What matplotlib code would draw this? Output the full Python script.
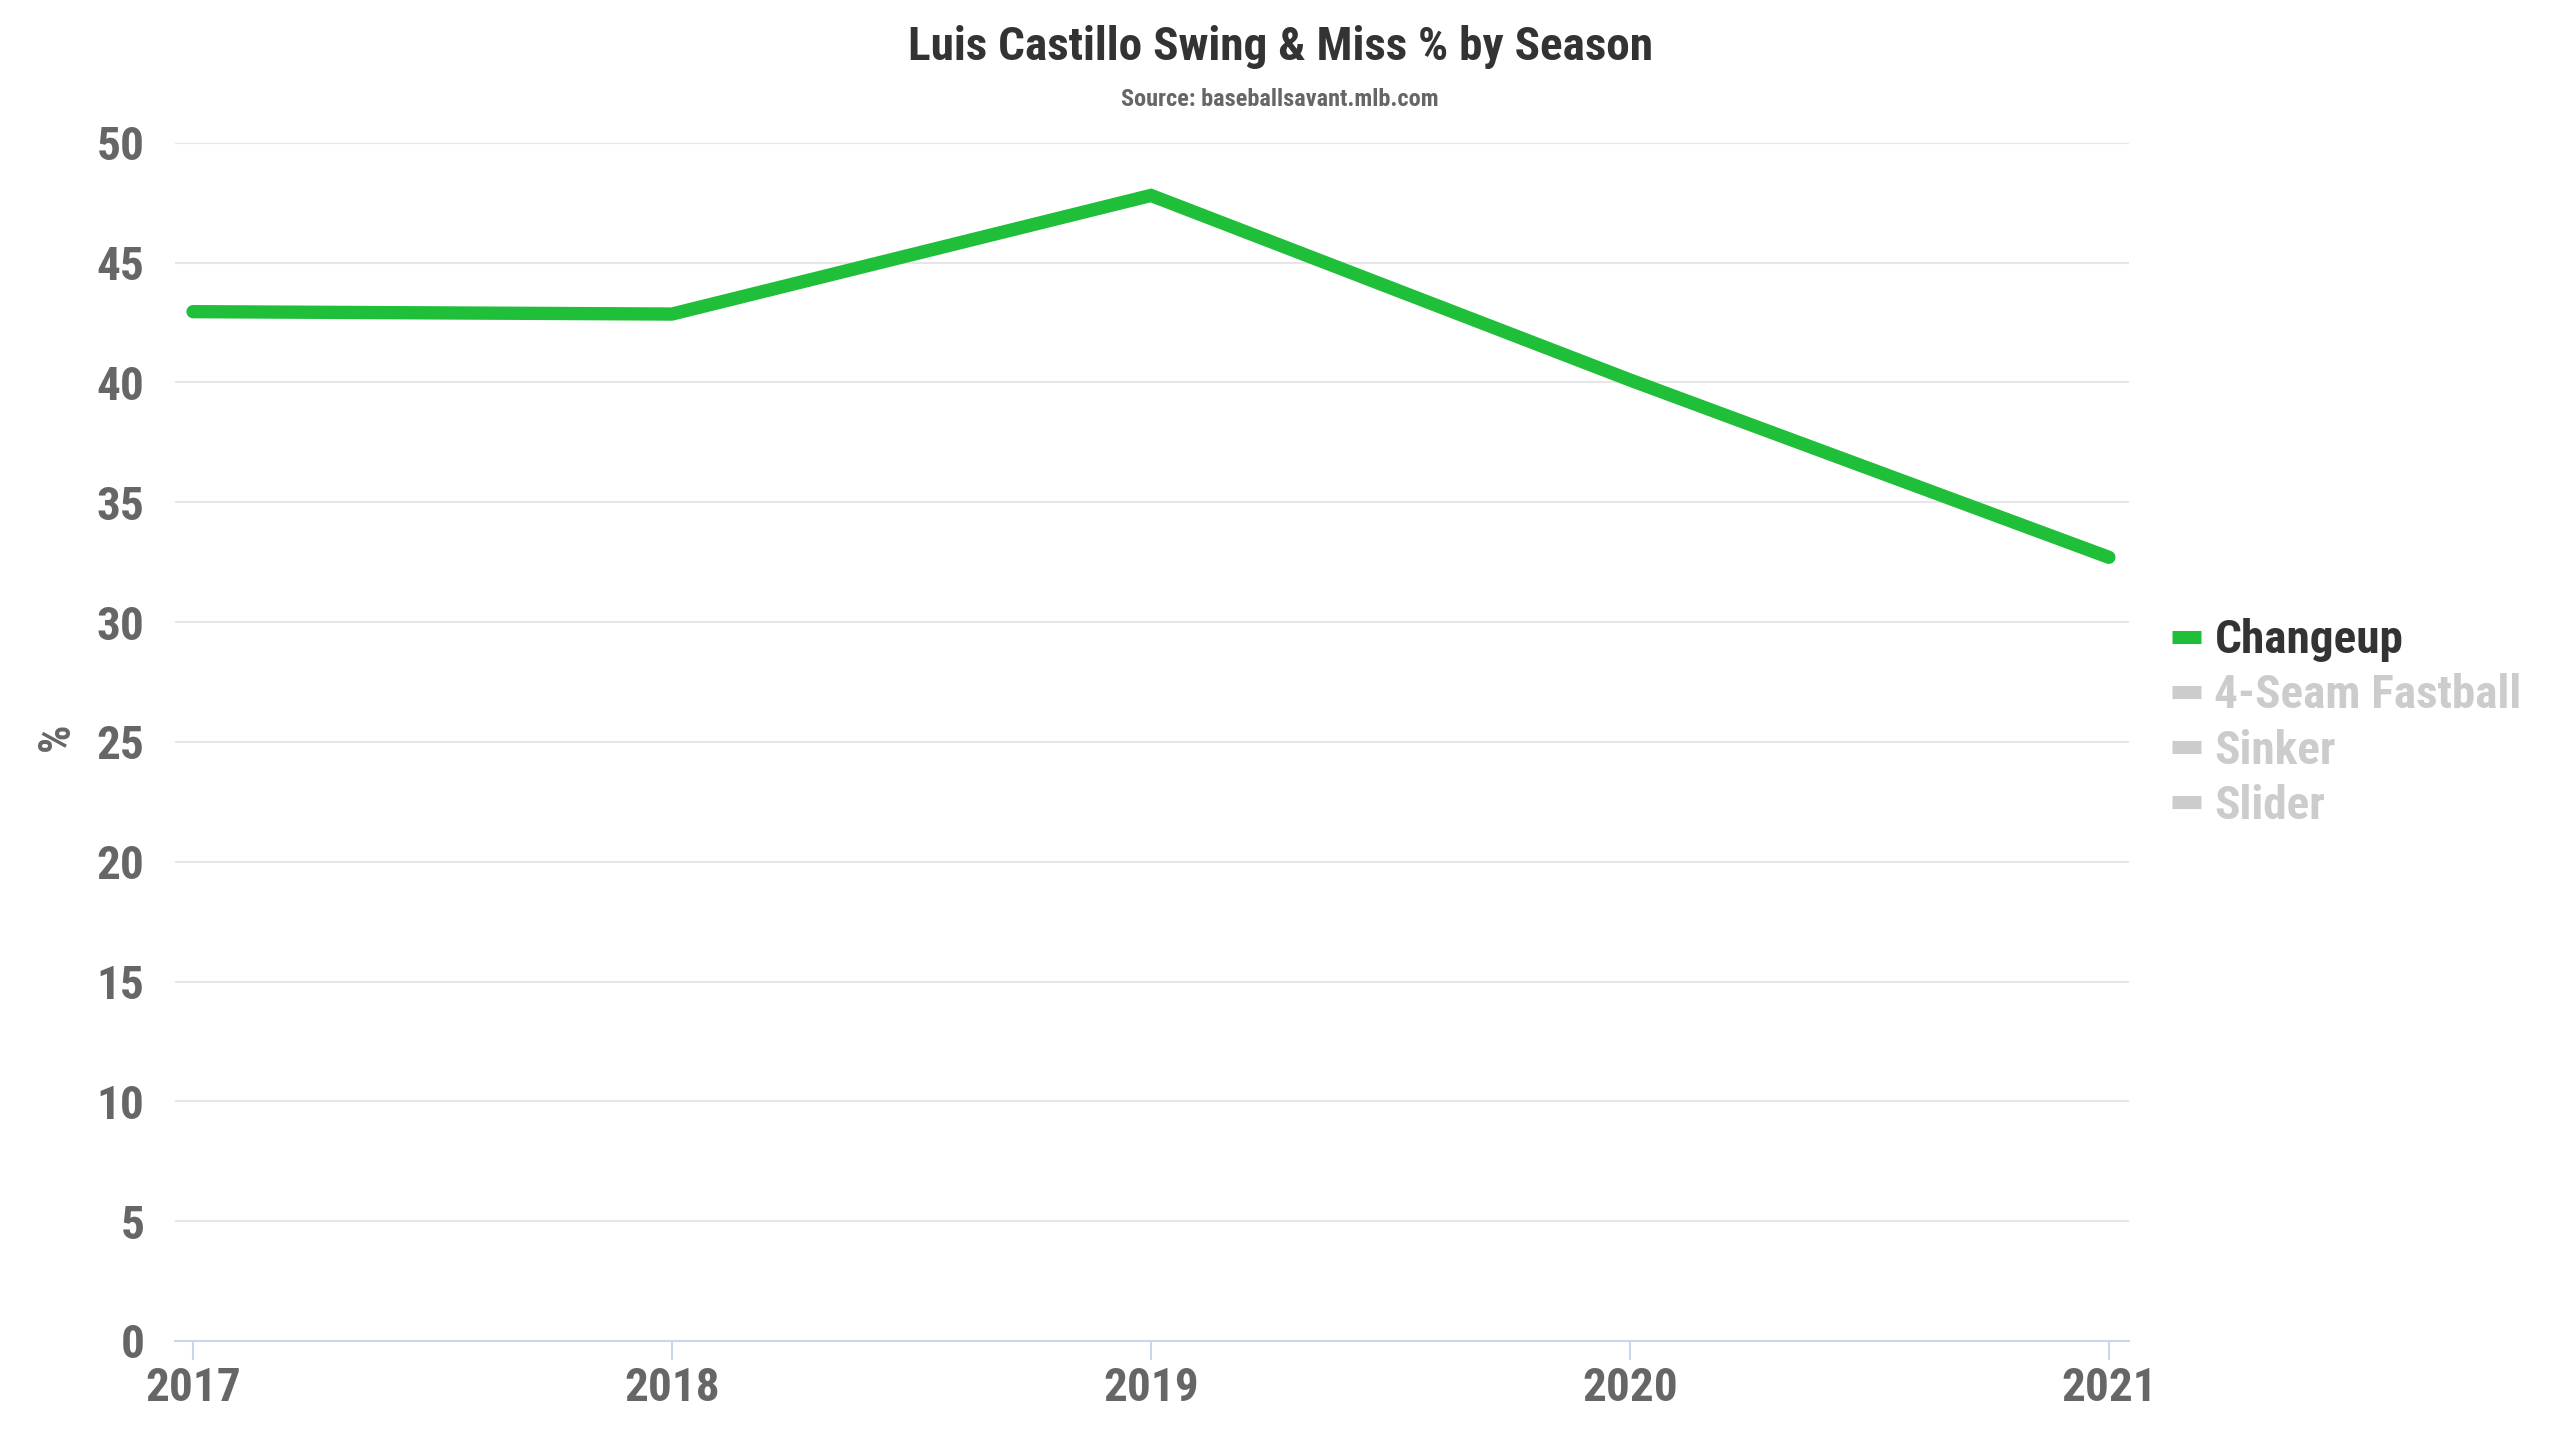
import matplotlib
matplotlib.use("Agg")
import matplotlib.pyplot as plt
from matplotlib.lines import Line2D

seasons = [2017, 2018, 2019, 2020, 2021]
changeup = [42.95, 42.85, 47.8, 40.1, 32.7]
series_names = ["Changeup", "4-Seam Fastball", "Sinker", "Slider"]
series_active = [True, False, False, False]
yticks = [0, 5, 10, 15, 20, 25, 30, 35, 40, 45, 50]

title = "Luis Castillo Swing & Miss % by Season"
subtitle = "Source: baseballsavant.mlb.com"

FONT = "Roboto Condensed"
GREEN = "#1fbf3a"
TICK_COLOR = "#666666"
TITLE_COLOR = "#333333"
INACTIVE = "#cccccc"

fig = plt.figure(figsize=(25.6, 14.4), dpi=100)
ax = fig.add_axes([175 / 2560, 1 - 1341 / 1440, (2129 - 175) / 2560, (1341 - 142.7) / 1440])

ax.plot(seasons, changeup, color=GREEN, lw=9.6, solid_capstyle="round",
        solid_joinstyle="miter", zorder=3)

ax.set_xlim(seasons[0] - 0.0376, seasons[-1] + 0.042)
ax.set_ylim(0, 50)
ax.set_yticks(yticks)
ax.set_xticks(seasons)
ax.set_xticklabels([str(s) for s in seasons])

for s in ["top", "right", "left"]:
    ax.spines[s].set_visible(False)
ax.spines["bottom"].set_color("#ccd6eb")
ax.spines["bottom"].set_linewidth(1.5)

ax.yaxis.grid(True, color="#e6e6e6", lw=1.5)
ax.set_axisbelow(True)
ax.tick_params(axis="y", length=0, pad=22, labelsize=34, labelcolor=TICK_COLOR)
ax.tick_params(axis="x", length=14, width=1.5, color="#ccd6eb", pad=4,
               labelsize=34, labelcolor=TICK_COLOR)
for lab in ax.get_xticklabels() + ax.get_yticklabels():
    lab.set_fontfamily(FONT)
    lab.set_fontweight("bold")

fig.text(57 / 2560, 1 - 737 / 1440, "%", rotation=90, ha="center", va="center",
         fontsize=32, fontweight="bold", color=TICK_COLOR, family=FONT)

fig.text(0.5, 1 - 47 / 1440, title, ha="center", va="center", fontsize=34,
         fontweight="bold", color=TITLE_COLOR, family=FONT)
fig.text(0.5, 1 - 100 / 1440, subtitle, ha="center", va="center", fontsize=17.5,
         fontweight="bold", color=TICK_COLOR, family=FONT)

handles = [Line2D([], [], color=(GREEN if a else INACTIVE), lw=9.4, solid_capstyle="butt")
           for a in series_active]
leg = fig.legend(handles, series_names, loc="center left",
                 bbox_to_anchor=(2172 / 2560, 1 - 723 / 1440),
                 bbox_transform=fig.transFigure, frameon=False,
                 prop={"family": FONT, "weight": "bold", "size": 34},
                 handlelength=0.62, handletextpad=0.28, labelspacing=0.235,
                 borderpad=0, borderaxespad=0)
for txt, a in zip(leg.get_texts(), series_active):
    txt.set_color(TITLE_COLOR if a else INACTIVE)

fig.savefig("out.png", dpi=100)
